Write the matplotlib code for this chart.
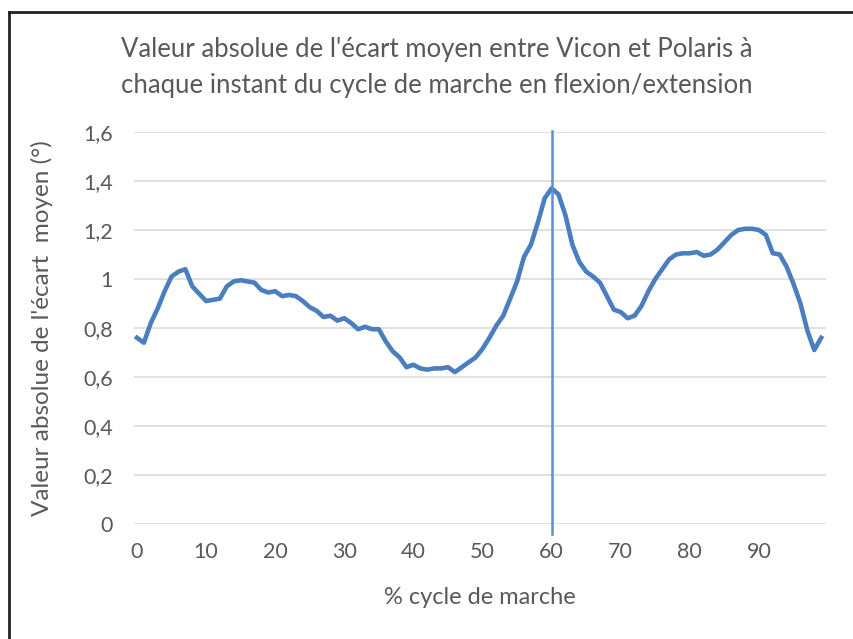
import matplotlib.pyplot as plt
from matplotlib.lines import Line2D
from matplotlib.ticker import FuncFormatter

plt.rcParams['font.family'] = ['Lato', 'DejaVu Sans']

# % du cycle de marche (0..99) et ecart moyen absolu (degres)
cycle = list(range(100))
ecart = [
    0.76, 0.74, 0.82, 0.88, 0.95, 1.01, 1.03, 1.04, 0.97, 0.94,
    0.91, 0.915, 0.92, 0.97, 0.99, 0.995, 0.99, 0.985, 0.955, 0.945,
    0.95, 0.93, 0.935, 0.93, 0.91, 0.885, 0.87, 0.845, 0.85, 0.83,
    0.84, 0.82, 0.795, 0.805, 0.795, 0.795, 0.745, 0.705, 0.68, 0.64,
    0.65, 0.635, 0.63, 0.635, 0.635, 0.64, 0.62, 0.64, 0.66, 0.68,
    0.715, 0.76, 0.81, 0.85, 0.92, 0.99, 1.09, 1.14, 1.23, 1.33,
    1.37, 1.345, 1.26, 1.14, 1.07, 1.03, 1.01, 0.985, 0.93, 0.875,
    0.865, 0.84, 0.85, 0.89, 0.95, 1.0, 1.04, 1.08, 1.10, 1.105,
    1.105, 1.11, 1.095, 1.10, 1.12, 1.15, 1.18, 1.20, 1.205, 1.205,
    1.20, 1.18, 1.105, 1.10, 1.05, 0.98, 0.90, 0.79, 0.71, 0.76,
]
marqueur_x = 60
yticks = [0, 0.2, 0.4, 0.6, 0.8, 1.0, 1.2, 1.4, 1.6]
xticks = [0, 10, 20, 30, 40, 50, 60, 70, 80, 90]

gris = '#595959'

fig = plt.figure(figsize=(8.54, 6.39), dpi=100)
fig.patch.set_facecolor('white')
ax = fig.add_axes([134 / 854, 1 - 524 / 639, (826 - 134) / 854, (524 - 132) / 639])

ax.set_ylim(0, 1.6)
ax.set_xlim(-0.43, 99.7)
ax.set_yticks(yticks)
ax.set_xticks(xticks)
ax.yaxis.set_major_formatter(FuncFormatter(lambda v, _: f"{v:g}".replace('.', ',')))
ax.grid(axis='y', color='#d9d9d9', linewidth=1.1)
ax.set_axisbelow(True)
for s in ax.spines.values():
    s.set_visible(False)
ax.tick_params(length=0, colors=gris, labelsize=15.5)
ax.tick_params(axis='y', pad=15)
ax.tick_params(axis='x', pad=13)

ax.plot(cycle, ecart, color='#4a7ebf', linewidth=3.3, solid_joinstyle='round')
ax.plot([marqueur_x, marqueur_x], [-0.04, 1.605], color='#5b8fd0', linewidth=1.8, clip_on=False)

ax.set_xlabel('% cycle de marche', fontsize=17, color=gris, labelpad=18)
ax.set_ylabel("Valeur absolue de l'écart  moyen (°)", fontsize=17.5, color=gris, labelpad=22)
fig.text(437 / 854, 1 - 50 / 639, "Valeur absolue de l'écart moyen entre Vicon et Polaris à",
         ha='center', va='center', fontsize=18.5, color=gris)
fig.text(437 / 854, 1 - 85 / 639, "chaque instant du cycle de marche en flexion/extension",
         ha='center', va='center', fontsize=18.5, color=gris)

# cadre partiel (bords gauche et haut)
fig.add_artist(Line2D([9 / 854, 9 / 854], [0, 1 - 12 / 639], transform=fig.transFigure,
                      color='#222222', linewidth=2))
fig.add_artist(Line2D([9 / 854, 1], [1 - 12 / 639, 1 - 12 / 639], transform=fig.transFigure,
                      color='#222222', linewidth=2))

fig.savefig('out.png', dpi=100)
